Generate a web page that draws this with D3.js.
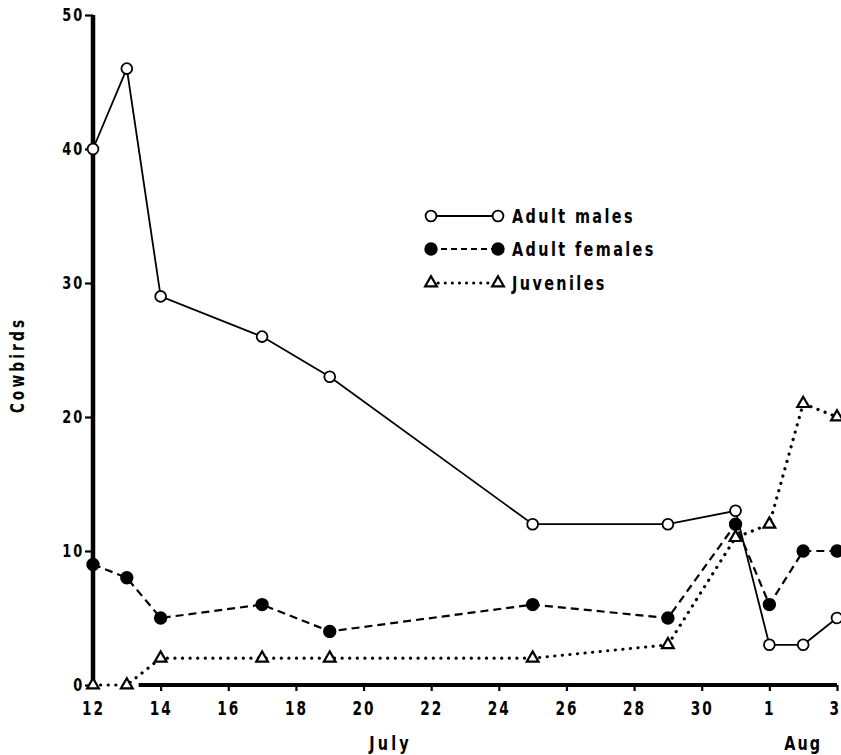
<!DOCTYPE html>
<html>
<head>
<meta charset="utf-8">
<script src="https://cdn.jsdelivr.net/npm/d3@7"></script>
<style>
  body { margin: 0; background: #fff; }
  text { font-family: 'DejaVu Sans Condensed', 'Liberation Sans Narrow', sans-serif; font-weight: bold; fill: #000; }
</style>
</head>
<body>
<div id="chart"></div>
<script>
// day index: 0 = July 12 ... 19 = July 31, 20 = Aug 1, 22 = Aug 3
var days = [0, 1, 2, 5, 7, 13, 17, 19, 20, 21, 22];
var adultMales = [40, 46, 29, 26, 23, 12, 12, 13, 3, 3, 5];
var adultFemales = [9, 8, 5, 6, 4, 6, 5, 12, 6, 10, 10];
var juveniles = [0, 0, 2, 2, 2, 2, 3, 11, 12, 21, 20];

var xTickDays = [0, 2, 4, 6, 8, 10, 12, 14, 16, 18, 20, 22];
var xTickLabels = ["12", "14", "16", "18", "20", "22", "24", "26", "28", "30", "1", "3"];
var yTicks = [0, 10, 20, 30, 40, 50];

var w = 841;
var h = 755;
var narrow = "scale(0.8,1)";

var svg = d3.select("#chart")
  .append("svg")
  .attr("width", w)
  .attr("height", h);

var xScale = d3.scaleLinear()
  .domain([0, 22])
  .range([93, 837]);

var yScale = d3.scaleLinear()
  .domain([0, 50])
  .range([685, 15]);

//Axes

var xAxis = d3.axisBottom(xScale)
  .tickValues(xTickDays)
  .tickSize(6)
  .tickPadding(11)
  .tickFormat(function(d, i) { return xTickLabels[i]; });

var gx = svg.append("g")
  .attr("transform", "translate(0," + yScale(0) + ")")
  .call(xAxis);

// axis line starts after the two zero juvenile points, as in the original
gx.select(".domain").attr("stroke-width", 4).attr("d", "M" + xScale(1.35) + ",0H" + xScale(22));
gx.selectAll(".tick line").attr("stroke-width", 2.2);
gx.selectAll(".tick").filter(function(d) { return d === 0; }).select("line").remove();

gx.selectAll(".tick text")
  .attr("font-size", 19)
  .attr("letter-spacing", 2.5)
  .style("font-family", "'DejaVu Sans Condensed', sans-serif")
  .style("font-weight", "bold")
  .attr("transform", narrow);

// keep the Aug 3 label inside the picture
gx.selectAll(".tick").filter(function(d) { return d === 22; })
  .select("text").attr("text-anchor", "end").attr("x", 2).attr("letter-spacing", 0);

var yAxis = d3.axisLeft(yScale)
  .tickValues(yTicks)
  .tickSize(8)
  .tickPadding(3);

var gy = svg.append("g")
  .attr("transform", "translate(" + xScale(0) + ",0)")
  .call(yAxis);

gy.select(".domain").attr("stroke-width", 4.5).attr("d", "M0," + yScale(0) + "V" + yScale(50));
gy.selectAll(".tick line").attr("stroke-width", 2.2);
gy.selectAll(".tick text")
  .attr("font-size", 18)
  .attr("letter-spacing", 2.5)
  .style("font-family", "'DejaVu Sans Condensed', sans-serif")
  .style("font-weight", "bold")
  .attr("transform", narrow);

svg.append("text")
  .attr("transform", "translate(24,365) rotate(-90) " + narrow)
  .attr("text-anchor", "middle")
  .attr("font-size", 19)
  .attr("letter-spacing", 4)
  .text("Cowbirds");

svg.append("text")
  .attr("transform", "translate(" + xScale(8.8) + ",750) " + narrow)
  .attr("text-anchor", "middle")
  .attr("font-size", 20)
  .attr("letter-spacing", 4)
  .text("July");

svg.append("text")
  .attr("transform", "translate(" + xScale(21) + ",750) " + narrow)
  .attr("text-anchor", "middle")
  .attr("font-size", 20)
  .attr("letter-spacing", 2.5)
  .text("Aug");

//Series

var lineGen = function(values) {
  return d3.line()
    .x(function(d, i) { return xScale(days[i]); })
    .y(function(d) { return yScale(d); })(values);
};

svg.append("path")
  .attr("d", lineGen(juveniles))
  .attr("fill", "none")
  .attr("stroke", "#000")
  .attr("stroke-width", 3.2)
  .attr("stroke-linecap", "round")
  .attr("stroke-dasharray", "0.1 7.5");

svg.append("path")
  .attr("d", lineGen(adultFemales))
  .attr("fill", "none")
  .attr("stroke", "#000")
  .attr("stroke-width", 2.2)
  .attr("stroke-dasharray", "8 5");

svg.append("path")
  .attr("d", lineGen(adultMales))
  .attr("fill", "none")
  .attr("stroke", "#000")
  .attr("stroke-width", 1.8);

var tri = d3.symbol().type(d3.symbolTriangle).size(60);

var drawTriangles = function(g, pts) {
  g.selectAll("path.tri")
    .data(pts)
    .enter()
    .append("path")
    .attr("class", "tri")
    .attr("d", tri)
    .attr("transform", function(d) { return "translate(" + d[0] + "," + d[1] + ")"; })
    .attr("fill", "#fff")
    .attr("stroke", "#000")
    .attr("stroke-width", 2.2);
};

var drawCircles = function(g, pts, fill) {
  g.selectAll("circle")
    .data(pts)
    .enter()
    .append("circle")
    .attr("cx", function(d) { return d[0]; })
    .attr("cy", function(d) { return d[1]; })
    .attr("r", fill === "#000" ? 5.8 : 5.4)
    .attr("fill", fill)
    .attr("stroke", "#000")
    .attr("stroke-width", 1.8);
};

var toPts = function(values) {
  return values.map(function(d, i) { return [xScale(days[i]), yScale(d)]; });
};

drawTriangles(svg.append("g"), toPts(juveniles));
drawCircles(svg.append("g"), toPts(adultFemales), "#000");
drawCircles(svg.append("g"), toPts(adultMales), "#fff");

//Legend

var legendItems = ["Adult males", "Adult females", "Juveniles"];
var legendY = [216, 249, 283];
var lx0 = 431, lx1 = 498;

var legend = svg.append("g");

legend.append("line")
  .attr("x1", lx0).attr("x2", lx1)
  .attr("y1", legendY[0]).attr("y2", legendY[0])
  .attr("stroke", "#000").attr("stroke-width", 1.8);
legend.append("line")
  .attr("x1", lx0).attr("x2", lx1)
  .attr("y1", legendY[1]).attr("y2", legendY[1])
  .attr("stroke", "#000").attr("stroke-width", 2.2)
  .attr("stroke-dasharray", "6 4");
legend.append("line")
  .attr("x1", lx0).attr("x2", lx1)
  .attr("y1", legendY[2]).attr("y2", legendY[2])
  .attr("stroke", "#000").attr("stroke-width", 3)
  .attr("stroke-linecap", "round")
  .attr("stroke-dasharray", "0.1 7");

drawCircles(legend.append("g"), [[lx0, legendY[0]], [lx1, legendY[0]]], "#fff");
drawCircles(legend.append("g"), [[lx0, legendY[1]], [lx1, legendY[1]]], "#000");
drawTriangles(legend.append("g"), [[lx0, legendY[2]], [lx1, legendY[2]]]);

legend.selectAll("text")
  .data(legendItems)
  .enter()
  .append("text")
  .attr("transform", function(d, i) { return "translate(512," + (legendY[i] + 7) + ") " + narrow; })
  .attr("font-size", 20)
  .attr("letter-spacing", 3)
  .text(function(d) { return d; });
</script>
</body>
</html>
